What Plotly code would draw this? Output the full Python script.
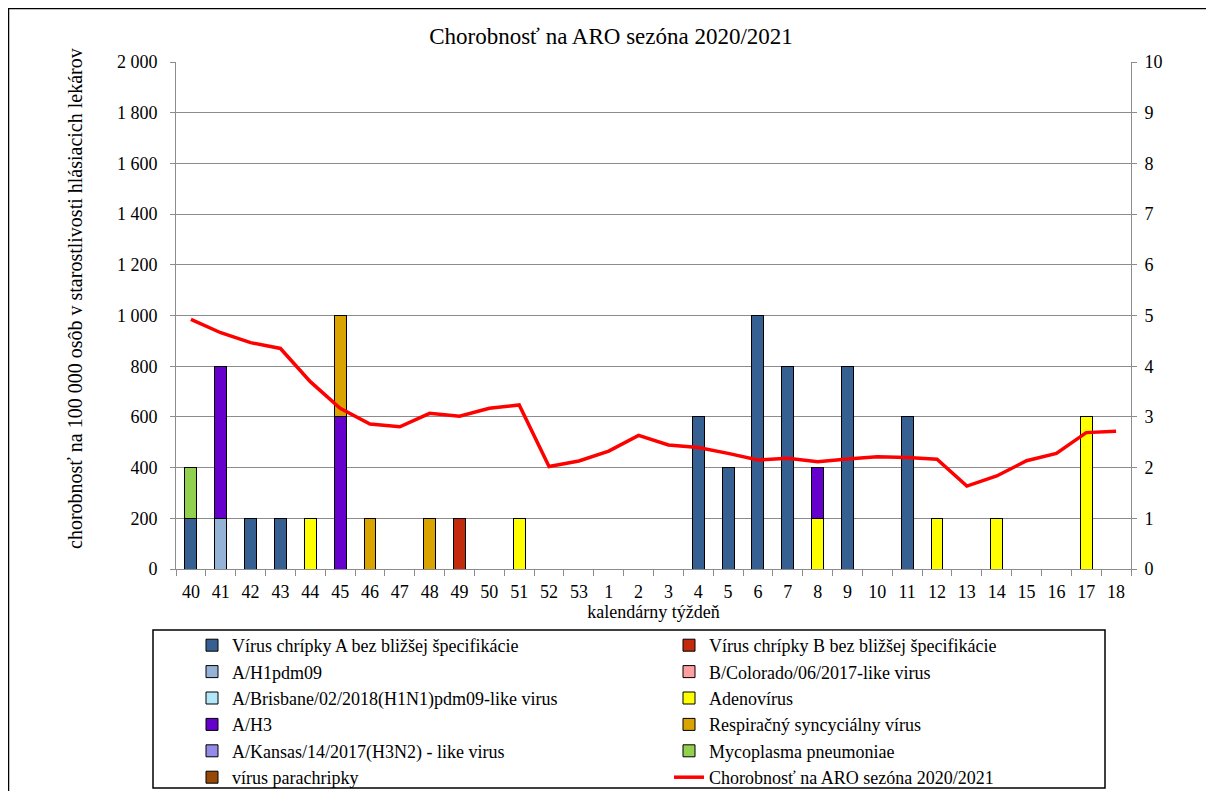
import plotly.graph_objects as go

weeks = ["40", "41", "42", "43", "44", "45", "46", "47", "48", "49", "50", "51", "52", "53",
         "1", "2", "3", "4", "5", "6", "7", "8", "9", "10", "11", "12", "13", "14", "15", "16", "17", "18"]

morbidity = [985, 932, 893, 870, 739, 634, 572, 561, 614, 603, 634, 647, 404, 426,
             465, 527, 489, 479, 456, 430, 437, 423, 434, 443, 440, 433, 327, 367, 427, 456, 538, 543]

flu_a_unspec = [1, 0, 1, 1, 0, 0, 0, 0, 0, 0, 0, 0, 0, 0, 0, 0, 0, 3, 2, 5, 4, 0, 4, 0, 3, 0, 0, 0, 0, 0, 0, 0]
flu_b_unspec = [0, 0, 0, 0, 0, 0, 0, 0, 0, 1, 0, 0, 0, 0, 0, 0, 0, 0, 0, 0, 0, 0, 0, 0, 0, 0, 0, 0, 0, 0, 0, 0]
a_h1pdm09 = [0, 1, 0, 0, 0, 0, 0, 0, 0, 0, 0, 0, 0, 0, 0, 0, 0, 0, 0, 0, 0, 0, 0, 0, 0, 0, 0, 0, 0, 0, 0, 0]
b_colorado = [0] * 32
a_brisbane = [0] * 32
adenovirus = [0, 0, 0, 0, 1, 0, 0, 0, 0, 0, 0, 1, 0, 0, 0, 0, 0, 0, 0, 0, 0, 1, 0, 0, 0, 1, 0, 1, 0, 0, 3, 0]
a_h3 = [0, 3, 0, 0, 0, 3, 0, 0, 0, 0, 0, 0, 0, 0, 0, 0, 0, 0, 0, 0, 0, 1, 0, 0, 0, 0, 0, 0, 0, 0, 0, 0]
rsv = [0, 0, 0, 0, 0, 2, 1, 0, 1, 0, 0, 0, 0, 0, 0, 0, 0, 0, 0, 0, 0, 0, 0, 0, 0, 0, 0, 0, 0, 0, 0, 0]
a_kansas = [0] * 32
mycoplasma = [1, 0, 0, 0, 0, 0, 0, 0, 0, 0, 0, 0, 0, 0, 0, 0, 0, 0, 0, 0, 0, 0, 0, 0, 0, 0, 0, 0, 0, 0, 0, 0]
parainfluenza = [0] * 32

bar_series = [
    ("Vírus chrípky A bez bližšej špecifikácie", flu_a_unspec, "#376092"),
    ("Vírus chrípky B bez bližšej špecifikácie", flu_b_unspec, "#C3290C"),
    ("A/H1pdm09", a_h1pdm09, "#95B3D7"),
    ("B/Colorado/06/2017-like virus", b_colorado, "#FF9F9F"),
    ("A/Brisbane/02/2018(H1N1)pdm09-like virus", a_brisbane, "#B4E7F8"),
    ("Adenovírus", adenovirus, "#FFFF00"),
    ("A/H3", a_h3, "#6600CC"),
    ("Respiračný syncyciálny vírus", rsv, "#DAA400"),
    ("A/Kansas/14/2017(H3N2) - like virus", a_kansas, "#948BE6"),
    ("Mycoplasma pneumoniae", mycoplasma, "#92D050"),
    ("vírus parachripky", parainfluenza, "#974706"),
]

FONT = "Liberation Serif, Times New Roman, serif"
GRID = "#8C8C8C"

OFF = 8  # page body margin
W, H = 1206, 783
L, R, T, B = 176 - OFF, 1131 - OFF, 62 - OFF, 569 - OFF
pw, ph = R - L, B - T


def px(x):  # screen x -> paper
    return (x - OFF - L) / pw


def py(y):  # screen y -> paper
    return (B - (y - OFF)) / ph


fig = go.Figure()
for name, vals, col in bar_series:
    fig.add_trace(go.Bar(
        x=weeks, y=[v if v else None for v in vals], name=name,
        marker=dict(color=col, line=dict(color="black", width=1)),
        yaxis="y",
    ))

fig.add_trace(go.Scatter(
    x=weeks, y=morbidity, name="Chorobnosť na ARO sezóna 2020/2021",
    mode="lines", line=dict(color="#FF0000", width=3.5), yaxis="y2",
))

fig.update_layout(
    width=W, height=H,
    margin=dict(l=L, r=W - R, t=T, b=H - B, autoexpand=False),
    paper_bgcolor="white", plot_bgcolor="white",
    font=dict(family=FONT, size=18, color="black"),
    separators=", ",
    barmode="stack", bargap=0.6,
    title=dict(text="Chorobnosť na ARO sezóna 2020/2021", x=px(611), xref="paper", xanchor="center",
               y=1 - (36 - OFF) / H, yref="container", yanchor="middle",
               font=dict(family=FONT, size=23, color="black")),
    xaxis=dict(type="category", showline=True, linecolor=GRID, linewidth=1,
               ticks="outside", tickson="boundaries", ticklen=6, tickcolor=GRID,
               tickfont=dict(size=18), showgrid=False, zeroline=False, ticklabelstandoff=6,
               title=dict(text="kalendárny týždeň", font=dict(size=18), standoff=0)),
    yaxis=dict(side="right", range=[0, 10], dtick=1, showgrid=True, gridcolor=GRID, gridwidth=1,
               showline=True, linecolor=GRID, ticks="outside", ticklen=5, tickcolor=GRID,
               tickfont=dict(size=18), zeroline=False, ticklabelstandoff=4),
    yaxis2=dict(side="left", overlaying="y", range=[0, 2000], dtick=200, tickformat=",d",
                showgrid=False, showline=True, linecolor=GRID, ticks="outside", ticklen=5,
                tickcolor=GRID, tickfont=dict(size=18), zeroline=False, ticklabelstandoff=9),
    legend=dict(orientation="h", x=px(192), y=py(627), xanchor="left", yanchor="top",
                entrywidth=432, entrywidthmode="pixels",
                borderwidth=0, bgcolor="rgba(0,0,0,0)",
                font=dict(family=FONT, size=18, color="black"), traceorder="normal"),
    showlegend=True,
    annotations=[dict(text="chorobnosť na 100 000 osôb v starostlivosti hlásiacich lekárov",
                      x=px(75), y=py(299), xref="paper", yref="paper", textangle=-90,
                      showarrow=False, xanchor="center", yanchor="middle",
                      font=dict(family=FONT, size=20, color="black"))],
    shapes=[
        dict(type="rect", xref="paper", yref="paper",
             x0=px(8.5), x1=px(1207), y0=py(810), y1=py(8.5),
             line=dict(color="black", width=1.5), fillcolor="rgba(0,0,0,0)", layer="below"),
        dict(type="rect", xref="paper", yref="paper",
             x0=px(153), x1=px(1105), y0=py(788), y1=py(630),
             line=dict(color="black", width=1.5), fillcolor="rgba(0,0,0,0)", layer="below"),
    ],
)

fig.write_html("out.html")
